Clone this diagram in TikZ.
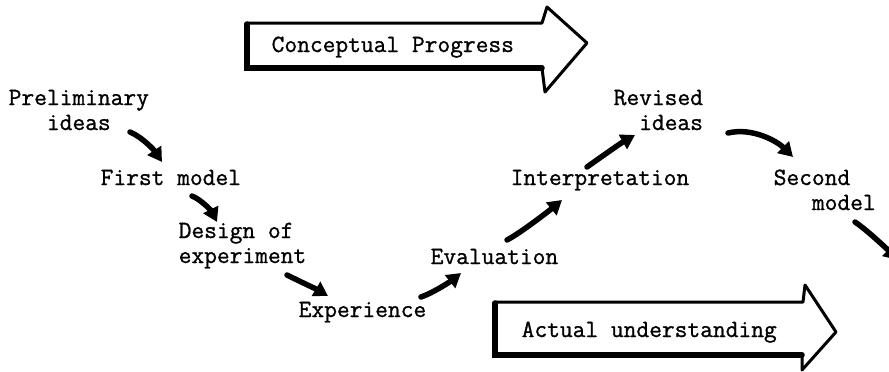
\documentclass[tikz,border=0pt]{standalone}
\usepackage{fontspec}
\setmonofont{Latin Modern Mono}[FakeBold=1]
\usetikzlibrary{arrows.meta}
\newcommand{\twol}[1]{\begin{tabular}[b]{@{}l@{}}#1\end{tabular}}
\newcommand{\twor}[1]{\begin{tabular}[b]{@{}r@{}}#1\end{tabular}}
\begin{document}
\begin{tikzpicture}[x=1pt,y=-1pt,
  lbl/.style={inner sep=0pt, anchor=base west, font=\ttfamily\fontsize{24.76}{25}\selectfont},
  flow/.style={line width=5.5pt, line cap=round, -{Triangle[length=14pt,width=16pt]}},
  outline/.style={line width=3pt, line join=round, line cap=round},
  shadow/.style={line width=5.5pt, line cap=round}]
\clip (0,0) rectangle (889,372);
\fill[white] (0,0) rectangle (889,372);

% block arrows
\draw[outline] (247,23) -- (542,23) -- (547,7) -- (587,43) -- (545,92) -- (542,68) -- (247,68) -- cycle;
\draw[shadow] (247,24) -- (247,68) -- (542,68);
\draw[outline] (495,302) -- (803,302) -- (805,285) -- (836,332) -- (802,370) -- (802,355) -- (495,355) -- cycle;
\draw[shadow] (495,303) -- (495,355) -- (802,355);

% labels (multi-line nodes: base = last line)
\node[lbl] (concept) at (271.5,52) {Conceptual Progress};
\node[lbl] (actual) at (521.5,337) {Actual understanding};
\node[lbl] (prelim) at (8.5,130) {\twol{Preliminary\\\phantom{Pre}ideas}};
\node[lbl] (first) at (100.5,185) {First model};
\node[lbl] (design) at (178.5,263) {\twol{Design of\\experiment}};
\node[lbl] (exper) at (298.5,317) {Experience};
\node[lbl] (eval) at (430.5,264) {Evaluation};
\node[lbl] (interp) at (510.5,185) {Interpretation};
\node[lbl] (revised) at (613.5,130) {\twor{Revised\\ideas}};
\node[lbl] (second) at (773.5,210) {\twol{Second\\\phantom{Sec}model}};

% flow arrows
\draw[flow] ([shift={(121.5,2)}]prelim.base west) .. controls +(12,5) and +(-8,-12) .. ([shift={(61.5,-23)}]first.base west);
\draw[flow] ([shift={(91.5,11)}]first.base west) .. controls +(10,4) and +(-5,-10) .. ([shift={(38.5,-41)}]design.base west);
\draw[flow] ([shift={(108.5,12)}]design.base west) .. controls +(12,6) and +(-10,-6) .. ([shift={(29.5,-21)}]exper.base west);
\draw[flow] ([shift={(122.5,-20)}]exper.base west) .. controls +(12,-4) and +(-10,8) .. ([shift={(30.5,9)}]eval.base west);
\draw[flow] ([shift={(76.5,-24)}]eval.base west) .. controls +(15,-8) and +(-12,10) .. ([shift={(51.5,15)}]interp.base west);
\draw[flow] ([shift={(76.5,-18)}]interp.base west) .. controls +(14,-10) and +(-14,8) .. ([shift={(21.5,5)}]revised.base west);
\draw[flow] ([shift={(114.5,3)}]revised.base west) .. controls +(25,-6) and +(-15,-15) .. ([shift={(19.5,-53)}]second.base west);
\draw[flow] ([shift={(81.5,12)}]second.base west) .. controls +(12,8) and +(-10,-10) .. ([shift={(124.5,50)}]second.base west);
\end{tikzpicture}
\end{document}
